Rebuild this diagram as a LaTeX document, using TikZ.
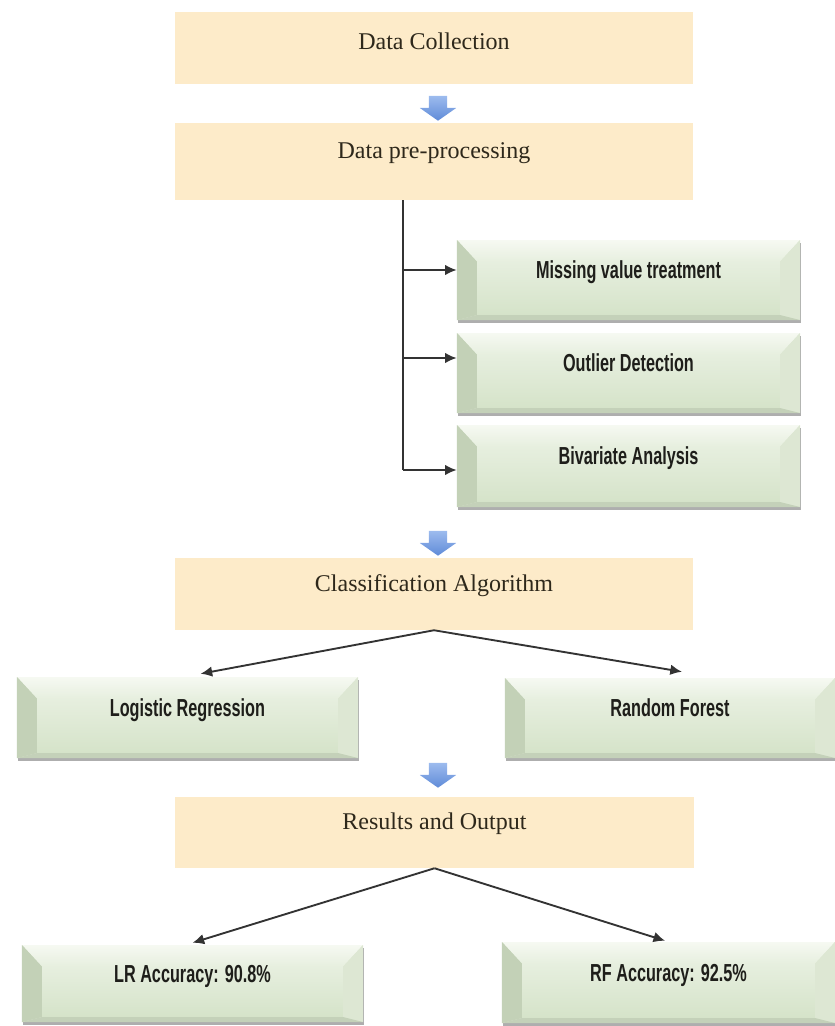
\documentclass[tikz,border=0pt]{standalone}
\usepackage{fontspec}
\setmainfont{Liberation Serif}
\newfontfamily\condfont[FakeStretch=0.66]{Liberation Sans}
\usepackage{tikz}
\usetikzlibrary{shapes.arrows,shadows,arrows.meta,calc}
\definecolor{tanfill}{HTML}{FDEBC9}
\definecolor{tantext}{HTML}{2E281B}
\definecolor{gface}{HTML}{DCE8D1}
\definecolor{gtop}{HTML}{F6F9F2}
\definecolor{gbot}{HTML}{D5E3C9}
\definecolor{gleft}{HTML}{C3D1B7}
\definecolor{gright}{HTML}{DDE7D3}
\definecolor{gtext}{HTML}{1E1E1A}
\definecolor{arrtop}{HTML}{9DBBEE}
\definecolor{arrbot}{HTML}{5F8BD8}

\begin{document}
\begin{tikzpicture}[x=0.03cm,y=-0.03cm,
    tanbox/.style={fill=tanfill,inner sep=0pt,minimum width=15.54cm,minimum height=2.16cm,
      text height=0.55cm,text depth=0.71cm,text=tantext,font=\fontsize{20.5}{24}\selectfont},
    greenbox/.style={fill=gface,inner sep=0pt,text height=0.55cm,text depth=0.62cm,text=gtext,
      font=\condfont\bfseries\fontsize{21}{25}\selectfont,
      drop shadow={shadow xshift=0.6pt,shadow yshift=-2.4pt,opacity=0.45,fill=black!70},
      path picture={
        \coordinate (p1) at (path picture bounding box.north west);
        \coordinate (p2) at (path picture bounding box.north east);
        \coordinate (p3) at (path picture bounding box.south east);
        \coordinate (p4) at (path picture bounding box.south west);
        \coordinate (q1) at ([xshift=0.6cm,yshift=-0.65cm]p1);
        \coordinate (q2) at ([xshift=-0.6cm,yshift=-0.65cm]p2);
        \coordinate (q3) at ([xshift=-0.6cm,yshift=0.15cm]p3);
        \coordinate (q4) at ([xshift=0.6cm,yshift=0.15cm]p4);
        \shade[top color=gtop,bottom color=gface!70!white] (p1) -- (p2) -- (q2) -- (q1) -- cycle;
        \shade[top color=gface!70!white,bottom color=gbot] (q1) rectangle (q3);
        \fill[gleft] (p1) -- (q1) -- (q4) -- (p4) -- cycle;
        \fill[gright] (p2) -- (q2) -- (q3) -- (p3) -- cycle;
        \fill[gbot!92!black] (p4) -- (q4) -- (q3) -- (p3) -- cycle;
      }},
    blockarrow/.style={single arrow,shape border rotate=270,inner sep=0.27cm,
      single arrow head extend=0.27cm,single arrow tip angle=110,minimum height=0.72cm,
      top color=arrtop,bottom color=arrbot,draw=none},
    line/.style={draw=black!80,line width=1.6pt},
    arr/.style={line,-{Latex[length=10pt,width=9pt]}}]

    \useasboundingbox (0,0) rectangle (835,1026);

    % main flow
    \node[tanbox,text depth=0.41cm] (dc) at (434,47.5) {Data Collection};
    \node[blockarrow] (ar1) at (438,105) {};
    \node[tanbox,minimum height=2.31cm] (pp) at (434,161.5) {Data pre-processing};

    % pre-processing steps
    \node[greenbox,minimum width=10.29cm,minimum height=2.4cm] (mv) at (628.5,280) {Missing value treatment};
    \node[greenbox,minimum width=10.29cm,minimum height=2.4cm] (od) at (628.5,373) {Outlier Detection};
    \node[greenbox,minimum width=10.29cm,minimum height=2.46cm] (ba) at (628.5,466) {Bivariate Analysis};

    \coordinate (trunk) at ([xshift=-0.93cm]pp.south);
    \coordinate (mvin) at ([yshift=0.3cm]mv.west);
    \coordinate (odin) at ([yshift=0.45cm]od.west);
    \coordinate (bain) at ([yshift=-0.12cm]ba.west);
    \draw[line] (trunk) -- (trunk |- bain);
    \foreach \b in {mvin,odin,bain}
      \draw[arr] (trunk |- \b) -- (\b);

    \node[blockarrow] (ar2) at (438,540) {};
    \node[tanbox] (ca) at (434,594) {Classification Algorithm};

    % classifiers
    \node[greenbox,minimum width=10.23cm,minimum height=2.43cm] (lr) at (187.5,717.5) {Logistic Regression};
    \node[greenbox,minimum width=9.9cm,minimum height=2.4cm] (rf) at (670,718) {Random Forest};
    \draw[arr] (ca.south) -- ([xshift=0.39cm,yshift=0.09cm]lr.north);
    \draw[arr] (ca.south) -- ([xshift=0.36cm,yshift=0.18cm]rf.north);

    \node[blockarrow] (ar3) at (438,772) {};
    \node[tanbox,minimum height=2.13cm] (ro) at (434.5,832.5) {Results and Output};

    % results
    \node[greenbox,minimum width=10.23cm,minimum height=2.31cm] (la) at (192.5,983.5) {LR Accuracy: 90.8\%};
    \node[greenbox,minimum width=9.99cm,minimum height=2.43cm] (ra) at (668.5,982.5) {RF Accuracy: 92.5\%};
    \draw[arr] (ro.south) -- ([yshift=0.06cm]la.north);
    \draw[arr] (ro.south) -- ([xshift=-0.1cm,yshift=0.03cm]ra.north);
\end{tikzpicture}
\end{document}
